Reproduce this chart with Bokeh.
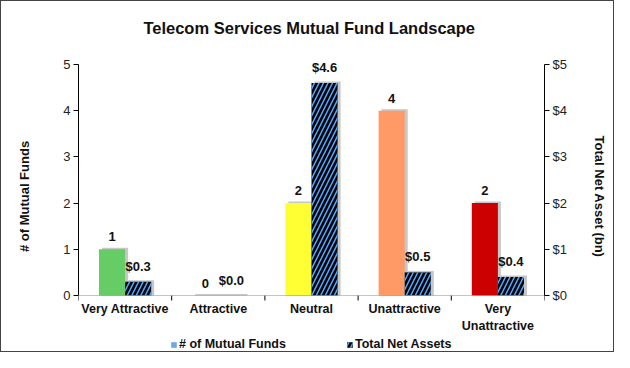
from bokeh.plotting import figure
from bokeh.models import (Range1d, LinearAxis, FixedTicker, Legend, LegendItem,
                          ColumnDataSource, NumeralTickFormatter, Span)
from bokeh.embed import file_html
from bokeh.resources import INLINE
from bokeh.core.properties import value
import numpy as np

categories = ["Very Attractive", "Attractive", "Neutral", "Unattractive", "Very\nUnattractive"]
num_funds = [1, 0, 2, 4, 2]
net_assets = [0.3, 0.0, 4.6, 0.5, 0.4]
bar_colors = ["#66CC66", "#66CC66", "#FFFF33", "#FF9966", "#CC0000"]
count_labels = ["1", "0", "2", "4", "2"]
asset_labels = ["$0.3", "$0.0", "$4.6", "$0.5", "$0.4"]
left_ticks = [0, 1, 2, 3, 4, 5]
right_ticks = [0, 1, 2, 3, 4, 5]

FONT = "Liberation Sans"
W, H = 614, 352
BW = 0.28
FTOP = 40         # frame top (px)
TOP = 63          # y = 5 (px)
ZERO = 294        # y = 0 (px)
BOT = 350         # frame bottom (px)
PPU = (ZERO - TOP) / 5.0
YMIN = -(BOT - ZERO) / PPU
YMAX = 5 + (TOP - FTOP) / PPU

centers = np.arange(len(categories)) + 0.5
bounds = np.arange(len(categories) + 1)
src = ColumnDataSource(dict(
    xl=centers - BW / 2, xr=centers + BW / 2,
    funds=num_funds, assets=net_assets, color=bar_colors,
    clab=count_labels, alab=asset_labels,
))

p = figure(width=W, height=H, output_backend="svg", toolbar_location=None,
           x_range=Range1d(0, len(categories)), y_range=Range1d(YMIN, YMAX),
           min_border_left=77, min_border_right=W - 543, min_border_top=FTOP,
           min_border_bottom=H - BOT,
           y_axis_location=None, x_axis_location=None)
p.extra_y_ranges = {"assets": Range1d(YMIN, YMAX)}
p.outline_line_color = None
p.xgrid.visible = False
p.ygrid.visible = False
p.background_fill_color = "white"
p.border_fill_color = "white"
p.styles = {"border": "1px solid #444444"}

p.title.text = "Telecom Services Mutual Fund  Landscape"
p.title.align = "center"
p.title.text_font = FONT
p.title.text_font_size = "16.5px"
p.title.text_font_style = "bold"
p.title.text_color = "#111111"
p.title.standoff = 10

# shadows
sx = 3.0 / 93.2
sy = 1.5 / PPU
shadow_kw = dict(fill_color="#999999", fill_alpha=0.55, line_color=None)
p.vbar(x=list(centers - BW / 2 + sx), top=list(np.array(num_funds, dtype=float) + sy), width=BW, **shadow_kw)
p.vbar(x=list(centers + BW / 2 + sx), top=list(np.array(net_assets, dtype=float) + sy), width=BW,
       y_range_name="assets", **shadow_kw)

funds_r = p.vbar(x="xl", top="funds", width=BW, source=src, fill_color="color", line_color=None)
assets_r = p.vbar(x="xr", top="assets", width=BW, source=src, y_range_name="assets",
                  fill_color="black", line_color=None,
                  hatch_pattern="/", hatch_color="#4DA6FF", hatch_weight=1.6, hatch_scale=9)

lbl = dict(text_font=value(FONT), text_font_size="13px", text_font_style="bold",
           text_align="center", text_baseline="bottom", y_offset=-8, text_color="#111111")
p.text(x="xl", y="funds", text="clab", source=src, **lbl)
p.text(x="xr", y="assets", text="alab", source=src, y_range_name="assets", **lbl)

# category axis drawn by hand (baseline, boundary ticks, labels)
p.add_layout(Span(location=0, dimension="width", line_color="#888888", line_dash="1 1", line_width=1))
p.segment(x0=list(bounds), x1=list(bounds), y0=0, y1=-5 / PPU, line_color="black", line_width=1)
p.text(x=list(centers), y=[0] * len(categories), text=categories,
       text_font=value(FONT), text_font_size="12.5px", text_font_style="bold",
       text_align="center", text_baseline="top", y_offset=6, text_color="#111111",
       text_line_height=1.25)

# legend-only renderer
dummy = p.vbar(x=[0.0], top=[0.0], width=0.0001, fill_color="#6FA8E8", line_color=None)

tick_font = dict(major_label_text_font=FONT, major_label_text_font_size="13px",
                 axis_label_text_font=FONT, axis_label_text_font_size="13px",
                 axis_label_text_font_style="bold", major_label_text_color="#222222",
                 axis_label_text_color="#111111")
yl = LinearAxis(ticker=FixedTicker(ticks=left_ticks), axis_label="# of Mutual Funds",
                bounds=(0, 5), **tick_font)
yl.major_tick_out = 5
yl.major_tick_in = 0
yl.minor_tick_line_color = None
yl.axis_line_color = "black"
yl.axis_label_standoff = 28
yl.major_label_standoff = 3
p.add_layout(yl, "left")

yr = LinearAxis(ticker=FixedTicker(ticks=right_ticks), y_range_name="assets",
                axis_label="Total Net Asset (bn)", bounds=(0, 5),
                formatter=NumeralTickFormatter(format="$0"), **tick_font)
yr.major_tick_out = 5
yr.major_tick_in = 0
yr.minor_tick_line_color = None
yr.axis_label_standoff = 22
yr.major_label_standoff = 3
p.add_layout(yr, "right")

legend = Legend(items=[LegendItem(label="# of Mutual Funds", renderers=[dummy]),
                       LegendItem(label="Total Net Assets", renderers=[assets_r])],
                orientation="horizontal", location=(92, 0),
                label_text_font=FONT, label_text_font_size="12.5px", label_text_font_style="bold",
                label_text_color="#111111",
                glyph_width=7, glyph_height=7, label_standoff=2, spacing=60,
                border_line_color=None, background_fill_alpha=0, padding=2, margin=0)
p.add_layout(legend, "center")

open("out.html", "w").write(file_html(p, INLINE))
